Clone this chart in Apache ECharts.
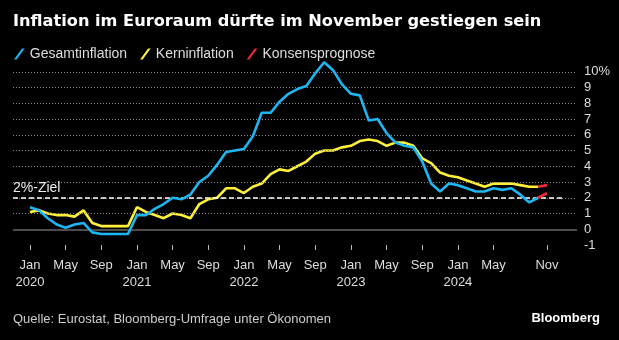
<!DOCTYPE html>
<html><head><meta charset="utf-8">
<script src="https://cdn.jsdelivr.net/npm/echarts@6/dist/echarts.min.js"></script>
<style>html,body{margin:0;padding:0;background:#000}#c{width:619px;height:340px}</style>
</head><body><div id="c"></div>
<script>
// ---- data ----
const months = [];
for (let y = 2020; y <= 2024; y++) for (let m = 1; m <= 12; m++) {
  if (y === 2024 && m > 11) break;
  months.push(y + '-' + String(m).padStart(2, '0'));
}
const headline = [
  1.4, 1.2, 0.7, 0.3, 0.1, 0.3, 0.4, -0.2, -0.3, -0.3, -0.3, -0.3,
  0.9, 0.9, 1.3, 1.6, 2.0, 1.9, 2.2, 3.0, 3.4, 4.1, 4.9, 5.0,
  5.1, 5.9, 7.4, 7.4, 8.1, 8.6, 8.9, 9.1, 9.9, 10.6, 10.1, 9.2,
  8.6, 8.5, 6.9, 7.0, 6.1, 5.5, 5.3, 5.2, 4.3, 2.9, 2.4, 2.9,
  2.8, 2.6, 2.4, 2.4, 2.6, 2.5, 2.6, 2.2, 1.7, 2.0
];
const core = [
  1.1, 1.2, 1.0, 0.9, 0.9, 0.8, 1.2, 0.4, 0.2, 0.2, 0.2, 0.2,
  1.4, 1.1, 0.9, 0.7, 1.0, 0.9, 0.7, 1.6, 1.9, 2.0, 2.6, 2.6,
  2.3, 2.7, 2.9, 3.5, 3.8, 3.7, 4.0, 4.3, 4.8, 5.0, 5.0, 5.2,
  5.3, 5.6, 5.7, 5.6, 5.3, 5.5, 5.5, 5.3, 4.5, 4.2, 3.6, 3.4,
  3.3, 3.1, 2.9, 2.7, 2.9, 2.9, 2.9, 2.8, 2.7, 2.7
];
const forecastMonths = ['2024-10', '2024-11'];
const forecastHeadline = [2.0, 2.3];
const forecastCore = [2.7, 2.8];
const xTickMonths = ['2020-01','2020-05','2020-09','2021-01','2021-05','2021-09','2022-01','2022-05','2022-09','2023-01','2023-05','2023-09','2024-01','2024-05','2024-11'];
const xTickLabels = ['Jan\n2020','May','Sep','Jan\n2021','May','Sep','Jan\n2022','May','Sep','Jan\n2023','May','Sep','Jan\n2024','May','Nov'];
const yTicks = [-1, 0, 1, 2, 3, 4, 5, 6, 7, 8, 9, 10];
const yTickLabels = ['-1','0','1','2','3','4','5','6','7','8','9','10%'];
const gridLevels = [1, 2, 3, 4, 5, 6, 7, 8, 9, 10];
const targetLevel = 2;
const seriesNames = ['Gesamtinflation', 'Kerninflation', 'Konsensprognose'];
const colors = ['#1cb6f2', '#fff03a', '#f2283c'];

// ---- build ----
const idx = m => months.indexOf(m);
const xMin = -1.9, xMax = 61.36;
const pairs = (vals, start) => vals.map((v, i) => [start + i, v]);
const xTickIdx = xTickMonths.map(idx);
const font = 'Liberation Sans, Arial, sans-serif';
const slash = 'path://M0,11 L8,0 L10.6,0 L2.6,11 Z';

const chart = echarts.init(document.getElementById('c'), null, { renderer: 'canvas' });
chart.setOption({
  backgroundColor: '#000',
  animation: false,
  textStyle: { fontFamily: font },
  title: {
    text: 'Inflation im Euroraum dürfte im November gestiegen sein',
    left: 13, top: 14, padding: 0,
    textStyle: { color: '#fff', fontSize: 16.2, fontWeight: 'bold', fontFamily: 'DejaVu Sans, sans-serif' }
  },
  legend: {
    data: seriesNames.map((n, i) => ({ name: n, icon: slash, itemStyle: { color: colors[i] } })),
    left: 14, top: 47, padding: 0,
    itemWidth: 11, itemHeight: 11, itemGap: 13,
    textStyle: { color: '#ddd', fontSize: 14, fontFamily: font }
  },
  grid: { left: 13, right: 42, top: 56, bottom: 95 },
  xAxis: {
    type: 'value', min: xMin, max: xMax,
    axisLine: { show: true, onZero: false, lineStyle: { color: 'rgba(0,0,0,0)' } },
    splitLine: { show: false },
    axisTick: { show: true, customValues: xTickIdx, length: 5, lineStyle: { color: '#bbb', width: 1 } },
    axisLabel: {
      customValues: xTickIdx, margin: 12, color: '#ddd', fontSize: 13, lineHeight: 17,
      formatter: v => xTickLabels[xTickIdx.indexOf(v)] || ''
    }
  },
  yAxis: {
    type: 'value', position: 'right', min: -1, max: 11,
    axisLine: { show: false }, axisTick: { show: false }, splitLine: { show: false },
    axisLabel: {
      customValues: yTicks, margin: 7, color: '#ddd', fontSize: 13,
      formatter: v => yTickLabels[yTicks.indexOf(v)] || ''
    }
  },
  series: [
    {
      type: 'line', data: [], z: 1, silent: true,
      markLine: {
        symbol: 'none', silent: true, animation: false, label: { show: false },
        data: gridLevels.map(v => ({ yAxis: v, lineStyle: { type: [1, 2], color: '#8a8a8a', width: 1 } }))
          .concat([{ yAxis: 0, lineStyle: { type: 'solid', color: '#666', width: 1.5 } }])
      }
    },
    {
      type: 'line', data: [], z: 2, silent: true,
      markLine: {
        symbol: 'none', silent: true, animation: false,
        lineStyle: { type: [5, 3], color: '#fff', width: 1.5 },
        label: { show: true, formatter: '2%-Ziel', position: 'insideStartTop', distance: [0, 3], color: '#eee', fontSize: 14, fontFamily: font },
        data: [[{ coord: [xMin, targetLevel] }, { coord: [59.8, targetLevel] }]]
      }
    },
    {
      name: seriesNames[0], type: 'line', z: 5, data: pairs(headline, 0),
      showSymbol: false, color: colors[0], lineStyle: { width: 2.6, color: colors[0] }
    },
    {
      name: seriesNames[1], type: 'line', z: 4, data: pairs(core, 0),
      showSymbol: false, color: colors[1], lineStyle: { width: 2.6, color: colors[1] }
    },
    {
      name: seriesNames[2], type: 'line', z: 6, data: pairs(forecastHeadline, idx(forecastMonths[0])),
      showSymbol: false, color: colors[2], lineStyle: { width: 2.6, color: colors[2] }
    },
    {
      name: seriesNames[2], type: 'line', z: 6, data: pairs(forecastCore, idx(forecastMonths[0])),
      showSymbol: false, color: colors[2], lineStyle: { width: 2.6, color: colors[2] }
    }
  ],
  graphic: [
    { type: 'text', left: 13, top: 313, style: { text: 'Quelle: Eurostat, Bloomberg-Umfrage unter Ökonomen', fill: '#ccc', font: '13px ' + font } },
    { type: 'text', right: 19, top: 312, style: { text: 'Bloomberg', fill: '#fff', font: 'bold 13px ' + font } }
  ]
});
</script></body></html>
